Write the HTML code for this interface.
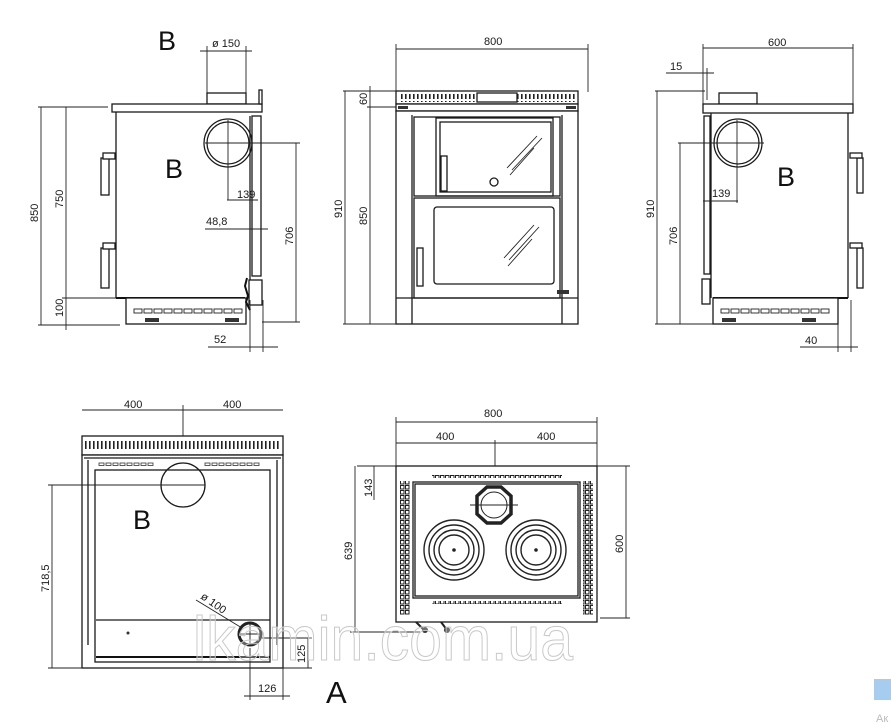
<!DOCTYPE html>
<html><head><meta charset="utf-8"><style>
html,body{margin:0;padding:0;background:#fff;width:891px;height:724px;overflow:hidden}
svg{display:block;font-family:"Liberation Sans",Arial,sans-serif}
.l{stroke:#1a1a1a;stroke-width:1.3;fill:none}
.t{stroke:#222;stroke-width:0.9;fill:none}
.h{stroke:#111;stroke-width:2;fill:none}
.f{fill:#fff;stroke:#1a1a1a;stroke-width:1.3}
text{fill:#1a1a1a;font-size:11px}
.big{font-size:27px;fill:#111}
</style></head><body>
<svg width="891" height="724" viewBox="0 0 891 724" xmlns="http://www.w3.org/2000/svg">
<defs>
<pattern id="grill" width="4" height="10" patternUnits="userSpaceOnUse"><rect x="1" y="1" width="1.6" height="8" fill="#222"/></pattern>
<pattern id="side" width="5" height="5" patternUnits="userSpaceOnUse"><rect width="5" height="5" fill="#fff"/><rect x="0.5" y="0.5" width="3.5" height="3.5" fill="none" stroke="#222" stroke-width="1"/></pattern>
</defs>

<!-- LEFT SIDE VIEW -->
<text x="158" y="50" class="big">B</text>
<text x="212" y="47">ø 150</text>
<line class="t" x1="200" y1="51" x2="252" y2="51"/>
<line class="t" x1="207" y1="46" x2="207" y2="93"/><line class="t" x1="246" y1="46" x2="246" y2="93"/>
<rect class="f" x="207" y="93" width="39" height="11"/>
<rect class="f" x="112" y="104" width="150" height="8"/>
<rect class="f" x="259" y="90" width="3" height="14"/>
<line class="l" x1="116" y1="112" x2="116" y2="298"/>
<line class="h" x1="116" y1="298" x2="245" y2="298"/>
<rect class="f" x="252" y="116" width="9" height="160"/>
<line class="l" x1="250" y1="116" x2="250" y2="300"/>
<circle class="l" cx="228" cy="143" r="24"/><circle class="l" cx="228" cy="143" r="21"/>
<line class="t" x1="205" y1="143" x2="300" y2="143"/><line class="t" x1="228" y1="120" x2="228" y2="200"/>
<text x="165" y="178" class="big">B</text>
<rect class="f" x="126" y="298" width="120" height="26"/>
<g fill="none" stroke="#222" stroke-width="0.9">
<rect x="134" y="309" width="8" height="4"/><rect x="144" y="309" width="8" height="4"/><rect x="154" y="309" width="8" height="4"/><rect x="164" y="309" width="8" height="4"/><rect x="174" y="309" width="8" height="4"/><rect x="184" y="309" width="8" height="4"/><rect x="194" y="309" width="8" height="4"/><rect x="204" y="309" width="8" height="4"/><rect x="214" y="309" width="8" height="4"/><rect x="224" y="309" width="8" height="4"/><rect x="234" y="309" width="8" height="4"/>
</g>
<rect x="145" y="318" width="14" height="4" fill="#333"/><rect x="225" y="318" width="14" height="4" fill="#333"/>
<rect class="f" x="249" y="280" width="13" height="25"/>
<path class="h" d="M247 278 l-2 8 l3 10 l-2 6 l4 8"/>
<rect class="f" x="101" y="158" width="8" height="37"/><rect class="f" x="103" y="153" width="12" height="6"/>
<rect class="f" x="101" y="248" width="8" height="40"/><rect class="f" x="103" y="243" width="12" height="6"/>
<line class="t" x1="38" y1="107" x2="108" y2="107"/><line class="t" x1="38" y1="325" x2="120" y2="325"/><line class="t" x1="62" y1="298" x2="116" y2="298"/>
<line class="t" x1="41" y1="107" x2="41" y2="325"/><line class="t" x1="66" y1="107" x2="66" y2="330"/>
<text transform="translate(38,222) rotate(-90)">850</text>
<text transform="translate(63,208) rotate(-90)">750</text>
<text transform="translate(63,317) rotate(-90)">100</text>
<line class="t" x1="296" y1="143" x2="296" y2="322"/><line class="t" x1="262" y1="322" x2="300" y2="322"/>
<text transform="translate(293,245) rotate(-90)">706</text>
<text x="237" y="198">139</text><line class="t" x1="227" y1="200" x2="258" y2="200"/>
<text x="206" y="225">48,8</text><line class="t" x1="205" y1="229" x2="268" y2="229"/>
<line class="t" x1="250" y1="300" x2="250" y2="352"/><line class="t" x1="263" y1="300" x2="263" y2="352"/>
<text x="214" y="343">52</text><line class="t" x1="208" y1="347" x2="278" y2="347"/>

<!-- FRONT VIEW -->
<text x="484" y="45">800</text>
<line class="t" x1="396" y1="49" x2="588" y2="49"/>
<line class="t" x1="396" y1="44" x2="396" y2="92"/><line class="t" x1="588" y1="44" x2="588" y2="92"/>
<rect class="f" x="396" y="91" width="182" height="13"/>
<rect x="399" y="94" width="78" height="8" fill="url(#grill)"/><rect x="517" y="94" width="59" height="8" fill="url(#grill)"/>
<rect class="f" x="477" y="93" width="40" height="9"/>
<rect class="f" x="396" y="104" width="182" height="7"/>
<rect x="398" y="106" width="10" height="3" fill="#333"/><rect x="566" y="106" width="10" height="3" fill="#333"/>
<rect class="f" x="396" y="111" width="182" height="213"/>
<line class="l" x1="412" y1="115" x2="412" y2="324"/><line class="l" x1="562" y1="115" x2="562" y2="324"/>
<rect class="l" x="414" y="117" width="146" height="79"/>
<rect class="l" x="436" y="118" width="117" height="78"/>
<rect class="l" x="440" y="122" width="111" height="70"/>
<circle class="l" cx="494" cy="182" r="4"/>
<path class="t" d="M507 168 l30 -32 M512 170 l30 -32 M510 175 l24 -27"/>
<rect class="f" x="441" y="156" width="6" height="35"/>
<rect class="l" x="414" y="198" width="146" height="100"/>
<rect class="l" x="434" y="207" width="120" height="77" rx="3"/>
<path class="t" d="M504 258 l30 -33 M509 260 l30 -33 M508 266 l24 -27"/>
<rect class="f" x="417" y="248" width="6" height="38"/>
<rect x="557" y="290" width="12" height="4" fill="#333"/>
<line class="l" x1="396" y1="298" x2="578" y2="298"/>
<line class="t" x1="343" y1="91" x2="396" y2="91"/><line class="t" x1="367" y1="107" x2="396" y2="107"/>
<line class="t" x1="345" y1="91" x2="345" y2="324"/><line class="t" x1="370" y1="86" x2="370" y2="324"/>
<line class="t" x1="343" y1="324" x2="396" y2="324"/>
<text transform="translate(342,218) rotate(-90)">910</text>
<text transform="translate(367,225) rotate(-90)">850</text>
<text transform="translate(367,105) rotate(-90)">60</text>

<!-- RIGHT SIDE VIEW -->
<text x="768" y="46">600</text>
<line class="t" x1="703" y1="48" x2="853" y2="48"/>
<line class="t" x1="703" y1="44" x2="703" y2="104"/><line class="t" x1="853" y1="44" x2="853" y2="104"/>
<text x="670" y="70">15</text><line class="t" x1="666" y1="73" x2="714" y2="73"/>
<line class="t" x1="707" y1="68" x2="707" y2="100"/>
<rect class="f" x="719" y="93" width="38" height="11"/>
<rect class="f" x="703" y="104" width="150" height="9"/>
<line class="l" x1="848" y1="113" x2="848" y2="298"/>
<line class="l" x1="711" y1="113" x2="711" y2="298"/>
<rect class="f" x="704" y="116" width="6" height="158"/>
<rect class="f" x="702" y="279" width="8" height="25"/>
<line class="h" x1="713" y1="298" x2="848" y2="298"/>
<circle class="l" cx="738" cy="143" r="24"/><circle class="l" cx="738" cy="143" r="21"/>
<line class="t" x1="678" y1="143" x2="764" y2="143"/><line class="t" x1="737" y1="120" x2="737" y2="203"/>
<text x="712" y="197">139</text><line class="t" x1="703" y1="201" x2="738" y2="201"/>
<text x="777" y="186" class="big">B</text>
<rect class="f" x="713" y="298" width="125" height="26"/>
<g fill="none" stroke="#222" stroke-width="0.9">
<rect x="721" y="309" width="8" height="4"/><rect x="731" y="309" width="8" height="4"/><rect x="741" y="309" width="8" height="4"/><rect x="751" y="309" width="8" height="4"/><rect x="761" y="309" width="8" height="4"/><rect x="771" y="309" width="8" height="4"/><rect x="781" y="309" width="8" height="4"/><rect x="791" y="309" width="8" height="4"/><rect x="801" y="309" width="8" height="4"/><rect x="811" y="309" width="8" height="4"/><rect x="821" y="309" width="8" height="4"/>
</g>
<rect x="722" y="318" width="14" height="4" fill="#333"/><rect x="802" y="318" width="14" height="4" fill="#333"/>
<rect class="f" x="857" y="158" width="6" height="35"/><rect class="f" x="850" y="153" width="12" height="5"/>
<rect class="f" x="857" y="248" width="6" height="40"/><rect class="f" x="850" y="243" width="12" height="5"/>
<line class="t" x1="655" y1="91" x2="705" y2="91"/><line class="t" x1="655" y1="324" x2="713" y2="324"/>
<line class="t" x1="657" y1="91" x2="657" y2="324"/><line class="t" x1="680" y1="143" x2="680" y2="324"/>
<text transform="translate(654,218) rotate(-90)">910</text>
<text transform="translate(677,245) rotate(-90)">706</text>
<line class="t" x1="838" y1="300" x2="838" y2="352"/><line class="t" x1="851" y1="300" x2="851" y2="352"/>
<text x="805" y="344">40</text><line class="t" x1="800" y1="347" x2="858" y2="347"/>

<!-- BACK VIEW -->
<text x="124" y="408">400</text><text x="223" y="408">400</text>
<line class="t" x1="82" y1="410" x2="283" y2="410"/>
<line class="t" x1="183" y1="405" x2="183" y2="505"/>
<rect class="f" x="82" y="436" width="201" height="19"/>
<rect x="84" y="440" width="197" height="11" fill="url(#grill)"/>
<rect class="f" x="82" y="455" width="201" height="213"/>
<rect class="l" x="95" y="470" width="175" height="192"/>
<line class="l" x1="88" y1="460" x2="88" y2="645"/><line class="l" x1="277" y1="460" x2="277" y2="645"/>
<line class="l" x1="84" y1="458" x2="281" y2="458"/>
<g fill="none" stroke="#333" stroke-width="0.8">
<rect x="99" y="463" width="5" height="2.5"/><rect x="106" y="463" width="5" height="2.5"/><rect x="113" y="463" width="5" height="2.5"/><rect x="120" y="463" width="5" height="2.5"/><rect x="127" y="463" width="5" height="2.5"/><rect x="134" y="463" width="5" height="2.5"/><rect x="141" y="463" width="5" height="2.5"/><rect x="148" y="463" width="5" height="2.5"/>
<rect x="205" y="463" width="5" height="2.5"/><rect x="212" y="463" width="5" height="2.5"/><rect x="219" y="463" width="5" height="2.5"/><rect x="226" y="463" width="5" height="2.5"/><rect x="233" y="463" width="5" height="2.5"/><rect x="240" y="463" width="5" height="2.5"/><rect x="247" y="463" width="5" height="2.5"/><rect x="254" y="463" width="5" height="2.5"/>
</g>
<circle class="l" cx="183" cy="485" r="22"/>
<line class="t" x1="48" y1="485" x2="205" y2="485"/>
<text x="133" y="529" class="big">B</text>
<line class="l" x1="96" y1="620" x2="270" y2="620"/>
<line class="h" x1="96" y1="657" x2="270" y2="657"/>
<circle cx="250" cy="634" r="11" fill="none" stroke="#222" stroke-width="3"/>
<line class="t" x1="238" y1="634" x2="262" y2="634"/><line class="t" x1="250" y1="622" x2="250" y2="646"/>
<line class="t" x1="196" y1="600" x2="242" y2="628"/>
<text transform="translate(200,598) rotate(35)">ø 100</text>
<circle cx="128" cy="633" r="1.5" fill="#333"/>
<line class="t" x1="52" y1="485" x2="52" y2="668"/><line class="t" x1="48" y1="668" x2="82" y2="668"/>
<text transform="translate(49,592) rotate(-90)">718,5</text>
<line class="t" x1="262" y1="638" x2="312" y2="638"/><line class="t" x1="283" y1="668" x2="312" y2="668"/>
<line class="t" x1="308" y1="638" x2="308" y2="668"/>
<text transform="translate(305,663) rotate(-90)">125</text>
<line class="t" x1="250" y1="648" x2="250" y2="700"/><line class="t" x1="283" y1="668" x2="283" y2="700"/>
<line class="t" x1="244" y1="696" x2="290" y2="696"/>
<text x="258" y="692">126</text>
<text x="326" y="703" class="big" style="font-size:31px">A</text>

<!-- TOP VIEW -->
<text x="484" y="417">800</text>
<line class="t" x1="396" y1="422" x2="597" y2="422"/>
<line class="t" x1="396" y1="417" x2="396" y2="466"/><line class="t" x1="597" y1="417" x2="597" y2="466"/>
<text x="436" y="440">400</text><text x="537" y="440">400</text>
<line class="t" x1="396" y1="443" x2="597" y2="443"/>
<line class="t" x1="495" y1="440" x2="495" y2="528"/>
<rect class="f" x="396" y="466" width="201" height="156"/>
<rect x="400" y="481" width="10" height="134" fill="url(#side)"/><rect x="583" y="481" width="10" height="134" fill="url(#side)"/>
<rect x="432" y="475" width="130" height="3" fill="url(#side)"/><rect x="432" y="601" width="130" height="3" fill="url(#side)"/>
<rect class="l" x="413" y="482" width="167" height="116"/>
<rect class="l" x="415" y="484" width="163" height="112"/>
<polygon points="487,487 501,487 511,496 511,514 501,523 487,523 477,514 477,496" fill="none" stroke="#222" stroke-width="3.5"/>
<circle cx="494" cy="505" r="13" fill="none" stroke="#222" stroke-width="1"/>
<line class="t" x1="470" y1="505" x2="518" y2="505"/>
<g fill="none" stroke="#222" stroke-width="1.4">
<circle cx="454" cy="550" r="30"/><circle cx="454" cy="550" r="25"/><circle cx="454" cy="550" r="20"/><circle cx="454" cy="550" r="15"/>
<circle cx="536" cy="550" r="30"/><circle cx="536" cy="550" r="25"/><circle cx="536" cy="550" r="20"/><circle cx="536" cy="550" r="15"/>
</g>
<circle cx="454" cy="550" r="1.8" fill="#222"/><circle cx="536" cy="550" r="1.8" fill="#222"/>
<path d="M416 622 l8 8 M441 622 l6 8" stroke="#222" stroke-width="2"/>
<circle cx="425" cy="630" r="3" fill="#333"/><circle cx="447" cy="630" r="3" fill="#333"/>
<line class="t" x1="357" y1="466" x2="396" y2="466"/><line class="t" x1="350" y1="632" x2="420" y2="632"/>
<line class="t" x1="374" y1="466" x2="374" y2="500"/><line class="t" x1="355" y1="466" x2="355" y2="632"/>
<text transform="translate(372,497) rotate(-90)">143</text>
<text transform="translate(352,560) rotate(-90)">639</text>
<line class="t" x1="597" y1="466" x2="630" y2="466"/><line class="t" x1="600" y1="618" x2="630" y2="618"/>
<line class="t" x1="626" y1="466" x2="626" y2="618"/>
<text transform="translate(623,553) rotate(-90)">600</text>

<!-- watermark -->
<text x="193" y="660" textLength="380" lengthAdjust="spacingAndGlyphs" style="font-size:62px;fill:rgba(255,255,255,0.3);stroke:#c8c8c8;stroke-width:1">lkamin.com.ua</text>
<rect x="874" y="679" width="17" height="21" fill="#a6cdf0"/>
<text x="876" y="722" style="fill:#bbb;font-size:11px">Ак</text>
</svg>
</body></html>
